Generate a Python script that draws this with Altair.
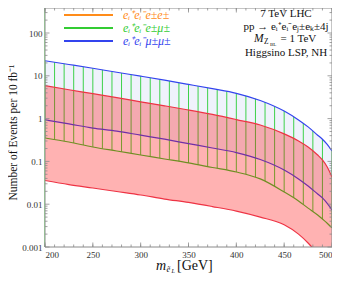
import altair as alt
import pandas as pd

# slepton mass [GeV]
mass = [200, 225, 250, 275, 300, 325, 350, 375, 400, 425, 450, 465, 475, 485, 490, 495, 500]
# blue band (e e mu mu) upper / lower
blue_hi = [22.5, 18.4, 15.0, 12.1, 9.8, 7.9, 6.3, 5.0, 3.9, 2.65, 1.5, 0.93, 0.64, 0.41, 0.33, 0.25, 0.175]
blue_lo = [0.93, 0.75, 0.60, 0.51, 0.41, 0.33, 0.26, 0.206, 0.161, 0.111, 0.063, 0.039, 0.0266, 0.0173, 0.0140, 0.0104, 0.0073]
# red/orange band (e e e e) upper / lower
red_hi = [5.87, 4.73, 3.82, 3.08, 2.47, 1.99, 1.59, 1.25, 0.95, 0.71, 0.44, 0.30, 0.217, 0.141, 0.108, 0.074, 0.043]
red_lo = [0.0358, 0.0288, 0.0239, 0.0198, 0.0164, 0.0132, 0.0110, 0.0088, 0.0069, 0.0050, 0.0033, 0.0020, 0.00124, 0.00069, 0.00050, 0.00034, 0.00022]
# green band (e e e mu) lower edge (upper edge follows blue_hi)
green_lo = [0.352, 0.284, 0.217, 0.175, 0.141, 0.114, 0.092, 0.072, 0.0565, 0.039, 0.0193, 0.0119, 0.0081, 0.0056, 0.0045, 0.0036, 0.0028]

hatch_x = list(range(200, 501, 10))
x_major = list(range(200, 501, 50))
x_minor = list(range(200, 501, 10))
y_major = [0.001, 0.01, 0.1, 1, 10, 100]
y_minor = [k * 10.0 ** e for e in range(-3, 3) for k in range(2, 10) if k * 10.0 ** e < 380]

legend_labels = ["eᵢ⁺eᵢ⁻e±e±", "eᵢ⁺eᵢ⁻e±μ±", "eᵢ⁺eᵢ⁻μ±μ±"]
legend_colors = ["#ff8c1a", "#33cc33", "#3344ee"]
info_lines = ["7 TeV LHC", "pp → eᵢ⁺eᵢ⁻eⱼ±eₖ±4j", "", "Higgsino LSP, NH"]

W, H = 287, 239
YMIN, YMAX = 0.001, 384
SERIF = "Liberation Serif, Times New Roman, Times, serif"

df = pd.DataFrame({"m": mass, "bu": blue_hi, "bl": blue_lo, "ru": red_hi, "rl": red_lo, "gl": green_lo})

xs = alt.Scale(domain=[200, 500], nice=False, zero=False)
ys = alt.Scale(type="log", domain=[YMIN, YMAX], nice=False)

xax = alt.Axis(values=x_major, ticks=False, domain=False, grid=False, labelFont=SERIF,
               labelFontSize=9, labelColor="#333", labelPadding=3, title=None)
yax = alt.Axis(values=y_major, ticks=False, domain=False, grid=False, labelFont=SERIF,
               labelFontSize=9, labelColor="#333", labelPadding=3, format="~g",
               title="Number of Events per 10 fb⁻¹", titleFont=SERIF, titleFontSize=11.5,
               titleFontWeight="normal", titleColor="#111", titleX=-32, titleY=124,
               titleBaseline="middle", titleAngle=270)

base = alt.Chart(df)
X = alt.X("m:Q", scale=xs, axis=xax)

hatch = alt.Chart(pd.DataFrame({"h": hatch_x})).mark_rule(color="#3fdc3f", strokeWidth=1).encode(
    x=alt.X("h:Q", scale=xs, axis=xax), y=alt.datum(YMAX, scale=ys), y2=alt.datum(YMIN))
mask_top = base.mark_area(color="white", opacity=1, interpolate="monotone", clip=True).encode(
    x=X, y=alt.Y("bu:Q", scale=ys, axis=yax), y2=alt.datum(YMAX))
mask_bot = base.mark_area(color="white", opacity=1, interpolate="monotone", clip=True).encode(
    x=X, y=alt.Y("gl:Q", scale=ys, axis=yax), y2=alt.datum(YMIN))
blue_band = base.mark_area(color="#3355dd", opacity=0.08, interpolate="monotone", clip=True).encode(
    x=X, y=alt.Y("bu:Q", scale=ys, axis=yax), y2="bl:Q")
bl_line = base.mark_line(color="#3344ee", strokeWidth=1.2, interpolate="monotone", clip=True).encode(
    x=X, y=alt.Y("bl:Q", scale=ys, axis=yax))
gl_line = base.mark_line(color="#33cc33", strokeWidth=1.2, interpolate="monotone", clip=True).encode(
    x=X, y=alt.Y("gl:Q", scale=ys, axis=yax))
red_band = base.mark_area(color="#ff0000", opacity=0.3, interpolate="monotone", clip=True).encode(
    x=X, y=alt.Y("ru:Q", scale=ys, axis=yax), y2="rl:Q")
bu_line = base.mark_line(color="#3344ee", strokeWidth=1.2, interpolate="monotone", clip=True).encode(
    x=X, y=alt.Y("bu:Q", scale=ys, axis=yax))
ru_line = base.mark_line(color="#ee3344", strokeWidth=1.2, interpolate="monotone", clip=True).encode(
    x=X, y=alt.Y("ru:Q", scale=ys, axis=yax))
rl_line = base.mark_line(color="#ee3344", strokeWidth=1.2, interpolate="monotone", clip=True).encode(
    x=X, y=alt.Y("rl:Q", scale=ys, axis=yax))

# frame ticks (inward)
tx = pd.DataFrame({"t": x_minor})
txm = pd.DataFrame({"t": x_major})
ty = pd.DataFrame({"t": y_minor})
tym = pd.DataFrame({"t": y_major})
TC = "#8a8a8a"
def xt(d, ln):
    c = alt.Chart(d)
    xe = alt.X("t:Q", scale=xs, axis=xax)
    return (c.mark_rule(color=TC, strokeWidth=0.8).encode(x=xe, y=alt.value(H), y2=alt.value(H - ln)) +
            c.mark_rule(color=TC, strokeWidth=0.8).encode(x=xe, y=alt.value(0), y2=alt.value(ln)))
def yt(d, ln):
    c = alt.Chart(d)
    ye = alt.Y("t:Q", scale=ys, axis=yax)
    return (c.mark_rule(color=TC, strokeWidth=0.8).encode(y=ye, x=alt.value(0), x2=alt.value(ln)) +
            c.mark_rule(color=TC, strokeWidth=0.8).encode(y=ye, x=alt.value(W), x2=alt.value(W - ln)))

frame = alt.Chart(pd.DataFrame({"a": [0]})).mark_rect(fill=None, stroke="#8a8a8a", strokeWidth=1).encode(
    x=alt.value(0), x2=alt.value(W), y=alt.value(0), y2=alt.value(H))

# legend
leg_layers = []
for i, (lab, col) in enumerate(zip(legend_labels, legend_colors)):
    yy = 7 + 13 * i
    d = pd.DataFrame({"lab": [lab]})
    leg_layers.append(alt.Chart(d).mark_rule(color=col, strokeWidth=2).encode(
        x=alt.value(19), x2=alt.value(68), y=alt.value(yy)))
    leg_layers.append(alt.Chart(d).mark_text(font=SERIF, fontSize=12, fontStyle="italic", color=col,
                                             align="left", baseline="middle").encode(
        x=alt.value(78), y=alt.value(yy), text="lab:N"))

info_layers = []
for i, t in enumerate(info_lines):
    if not t:
        continue
    yy = [6, 18.5, 31, 44.5][i]
    info_layers.append(alt.Chart(pd.DataFrame({"t": [t]})).mark_text(
        font=SERIF, fontSize=11, color="#111", align="center", baseline="middle").encode(
        x=alt.value(241), y=alt.value(yy), text="t:N"))
# M_{Z_BL} = 1 TeV
mz = [("M", 209, 31, 11.5, "italic"), ("Z", 219, 33.5, 7.5, "normal"),
      ("BL", 225, 35.5, 5, "normal"), ("= 1 TeV", 235.5, 31, 11, "normal")]
for t, x0, y0, fs, st in mz:
    info_layers.append(alt.Chart(pd.DataFrame({"t": [t]})).mark_text(
        font=SERIF, fontSize=fs, fontStyle=st, color="#111", align="left", baseline="middle").encode(
        x=alt.value(x0), y=alt.value(y0), text="t:N"))

# x title  m_{ẽ_L} [GeV]
xt_parts = [("m", 111, 262, 14, "italic"), ("ẽ", 121.5, 263.5, 8.5, "italic"), ("L", 126.5, 265, 6, "italic"),
            ("[GeV]", 132, 262, 14, "normal")]
xt_layers = []
for t, x0, y0, fs, st in xt_parts:
    xt_layers.append(alt.Chart(pd.DataFrame({"t": [t]})).mark_text(
        font=SERIF, fontSize=fs, fontStyle=st, color="#111", align="left", baseline="alphabetic").encode(
        x=alt.value(x0), y=alt.value(y0), text="t:N"))

chart = alt.layer(
    hatch, mask_top, mask_bot, blue_band, bl_line, gl_line, red_band, bu_line, ru_line, rl_line,
    xt(tx, 2.5), xt(txm, 4.5), yt(ty, 2.5), yt(tym, 4.5), frame,
    *leg_layers, *info_layers, *xt_layers
).properties(width=W, height=H, padding={"left": 37, "top": 0, "right": 0, "bottom": 27},
             autosize=alt.AutoSizeParams(type="none")).configure_view(stroke=None)

chart.save("out.html", embed_options={"renderer": "svg", "actions": False})
